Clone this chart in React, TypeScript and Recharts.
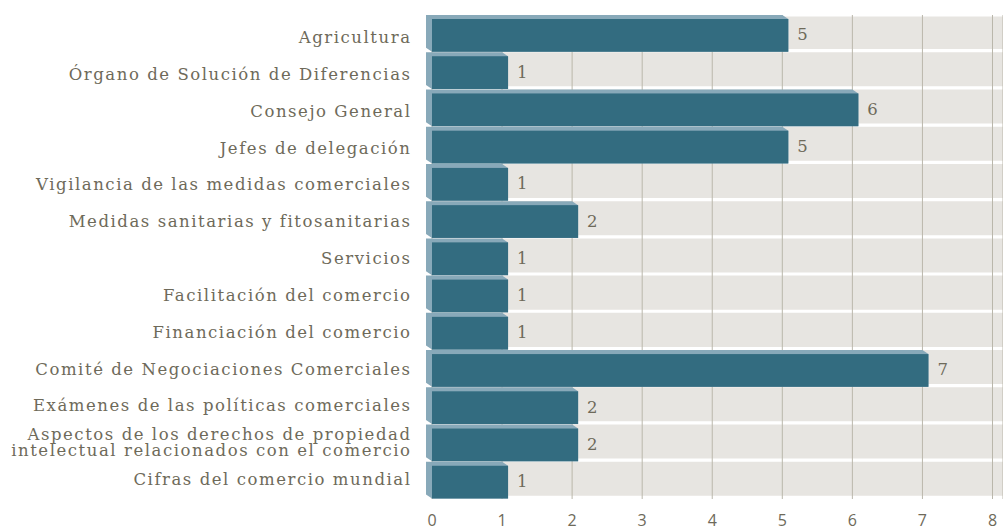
import React from "react";
import {
  Bar,
  BarChart,
  CartesianGrid,
  LabelList,
  XAxis,
  YAxis,
} from "recharts";

const categories = [
  "Agricultura",
  "Órgano de Solución de Diferencias",
  "Consejo General",
  "Jefes de delegación",
  "Vigilancia de las medidas comerciales",
  "Medidas sanitarias y fitosanitarias",
  "Servicios",
  "Facilitación del comercio",
  "Financiación del comercio",
  "Comité de Negociaciones Comerciales",
  "Exámenes de las políticas comerciales",
  "Aspectos de los derechos de propiedad\nintelectual relacionados con el comercio",
  "Cifras del comercio mundial",
];
const counts = [5, 1, 6, 5, 1, 2, 1, 1, 1, 7, 2, 2, 1];
const xTicks = [0, 1, 2, 3, 4, 5, 6, 7, 8];

const data = categories.map((name, i) => ({ name, value: counts[i] }));

const FONT = "'DejaVu Serif', serif";
const TEXT = "#6e6a5a";
const FRONT = "#336c80";
const BACK = "#88a9b9";
const BAND = "#e7e5e1";
const GRID = "#bab7ab";

// 3D-ish bar: light "back" face peeking out top/left, dark front face shifted
function Bar3D(props: any) {
  const { x, y, width, height } = props;
  const dx = 6;
  const dy = 4;
  const h = height - 4.25;
  const back = [
    [x - dx, y],
    [x + width, y],
    [x + width + dx, y + dy],
    [x + width + dx, y + h + dy],
    [x, y + h + dy],
    [x - dx, y + h],
  ]
    .map((p) => p.join(","))
    .join(" ");
  return (
    <g>
      <polygon points={back} fill={BACK} />
      <rect x={x} y={y + dy} width={width + dx} height={h} fill={FRONT} />
    </g>
  );
}

function CategoryTick(props: any) {
  const { x, y, payload, index } = props;
  const lines = String(payload.value).split("\n");
  const lh = 15.5;
  const start = -((lines.length - 1) * lh) / 2;
  // labels sit on a slightly tighter pitch than the bars
  const shift = 9.5 - (index || 0) * 0.41;
  const ls = 1.55;
  return (
    <text
      x={x}
      y={y}
      textAnchor="end"
      fill={TEXT}
      fontFamily={FONT}
      fontSize={16.5}
      letterSpacing={ls}
    >
      {lines.map((l, i) => (
        <tspan key={i} x={x + ls} dy={i === 0 ? start + shift : lh}>
          {l}
        </tspan>
      ))}
    </text>
  );
}

// white separators at the bottom of every category band
function bandLines({ offset }: any) {
  const n = categories.length;
  const step = offset.height / n;
  return [offset.top, ...categories.map((_, i) => offset.top + (i + 1) * step - 1.6)];
}

export default function App() {
  return (
    <div style={{ position: "absolute", left: 0, top: 0 }}>
      <BarChart
        width={1003}
        height={532}
        data={data}
        layout="vertical"
        margin={{ top: 15, right: 0, bottom: 0, left: 0 }}
        barCategoryGap={0}
      >
        <CartesianGrid
          vertical={false}
          horizontal
          stroke="#ffffff"
          strokeWidth={3.2}
          horizontalFill={[BAND]}
          horizontalCoordinatesGenerator={bandLines}
        />
        <CartesianGrid horizontal={false} stroke={GRID} strokeWidth={1} />
        <XAxis
          type="number"
          domain={[0, 8.15]}
          ticks={xTicks}
          axisLine={false}
          tickLine={false}
          tickSize={0}
          tickMargin={16}
          height={33}
          tick={{ fill: TEXT, fontFamily: "'Open Sans', sans-serif", fontSize: 16 }}
        />
        <YAxis
          type="category"
          dataKey="name"
          width={432}
          axisLine={false}
          tickLine={false}
          tickSize={0}
          tickMargin={22}
          interval={0}
          tick={<CategoryTick />}
        />
        <Bar dataKey="value" shape={<Bar3D />} isAnimationActive={false}>
          <LabelList
            dataKey="value"
            position="right"
            offset={15}
            fill={TEXT}
            fontFamily={FONT}
            fontSize={16.5}
            dy={1}
          />
        </Bar>
      </BarChart>
    </div>
  );
}
